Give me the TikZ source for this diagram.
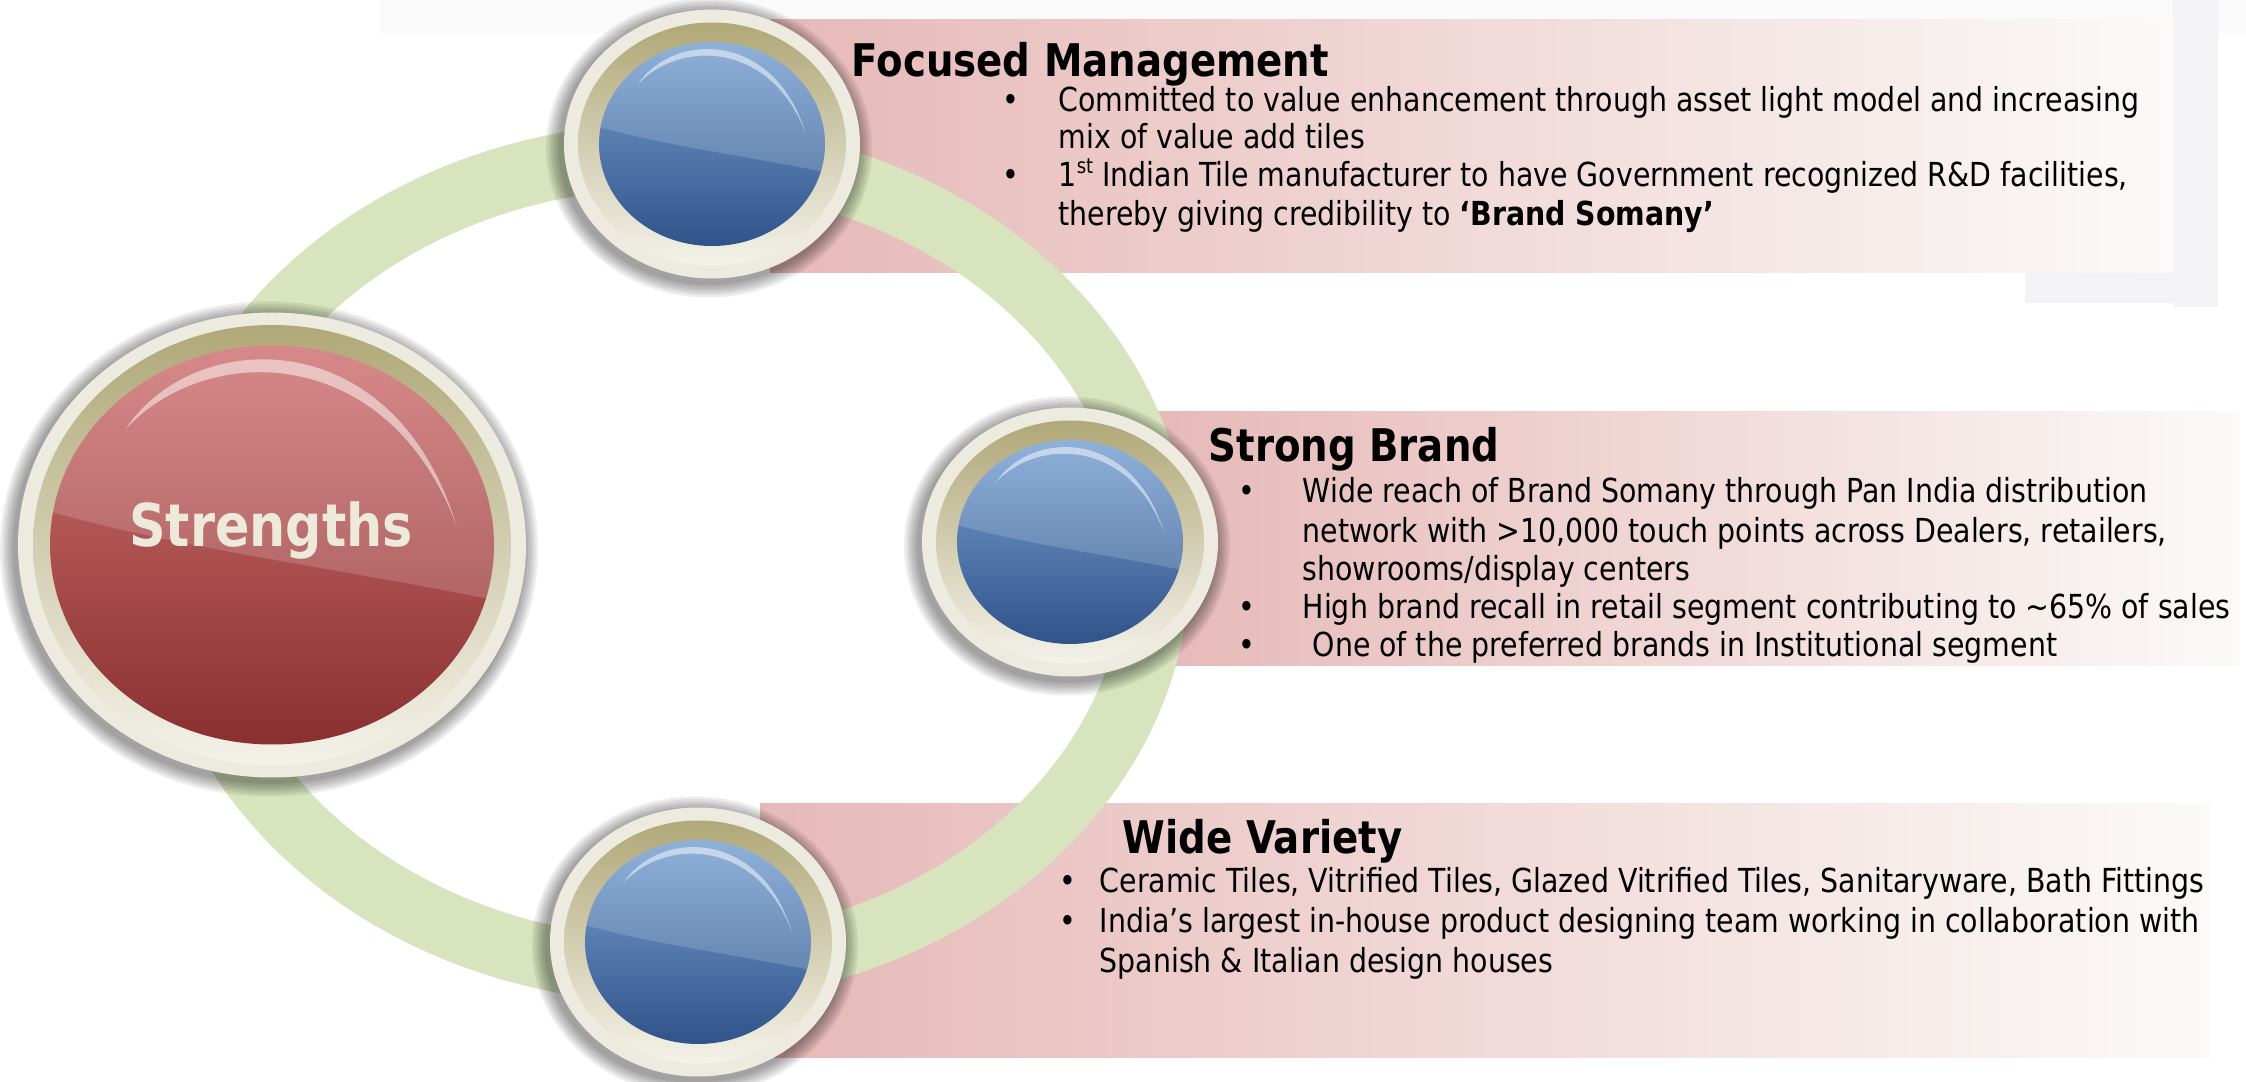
\documentclass[tikz,border=0pt]{standalone}
\usepackage{fontspec}
\usepackage{tikz}
\usetikzlibrary{calc}

\newfontfamily\slidefont[FakeStretch=0.86]{DejaVu Sans}

\definecolor{ringgreen}{HTML}{D7E4BD}
\definecolor{bandpink}{HTML}{E6B9B8}
\definecolor{bandmid}{HTML}{EFE2DE}
\definecolor{bandend}{HTML}{FBFAF8}
\definecolor{rimcream}{HTML}{EDEBE0}
\definecolor{olivetop}{HTML}{B0A878}
\definecolor{olivebot}{HTML}{F4F2EA}
\definecolor{bluetop}{HTML}{79A2D3}
\definecolor{bluemid}{HTML}{4F7FBC}
\definecolor{bluebot}{HTML}{30538A}
\definecolor{redtop}{HTML}{D07373}
\definecolor{redmid}{HTML}{C45957}
\definecolor{redbot}{HTML}{8A3030}
\definecolor{labelcream}{HTML}{EEEADB}
\definecolor{slidegrey}{HTML}{F3F3F5}

\tikzset{
  band/.style={left color=bandpink, middle color=bandmid, right color=bandend},
  txt/.style={anchor=base west, inner sep=0pt, font=\slidefont\fontsize{9.4}{11}\selectfont},
  bulletmark/.style={anchor=base, inner sep=0pt, font=\slidefont\fontsize{9.4}{11}\selectfont},
  heading/.style={anchor=base west, inner sep=0pt, font=\slidefont\bfseries\fontsize{12.8}{15}\selectfont},
}

% glossy button: centre, outer radii, rim radii, face radii, colour prefix
\newcommand\drawgem[8]{%
  \begin{scope}[shift={(#1)}]
    \foreach \k in {1,...,6}
      {\fill[black,opacity=.07] (-3,-4) ellipse [x radius=#2+2.5*\k, y radius=#3+2.5*\k];}
    \fill[rimcream] (0,0) ellipse [x radius=#2, y radius=#3];
    \shade[top color=olivetop, bottom color=olivebot] (0,0) ellipse [x radius=#4, y radius=#5];
    \shade[top color=#8top, middle color=#8mid, bottom color=#8bot] (0,0) ellipse [x radius=#6, y radius=#7];
    \begin{scope}
      \clip (0,0) ellipse [x radius=#6, y radius=#7];
      \fill[white,opacity=.16] ({-1.1*#6},{.2*#7}) .. controls ({-.45*#6},{-.02*#7}) and ({.35*#6},{-.12*#7}) .. ({1.1*#6},{-.3*#7})
        -- ({1.1*#6},{1.1*#7}) -- ({-1.1*#6},{1.1*#7}) -- cycle;
    \end{scope}
    % thin reflection along the top
    \fill[white,opacity=.5] ({-.66*#6},{.58*#7}) .. controls ({-.35*#6},{1.1*#7}) and ({.55*#6},{1.12*#7}) .. ({.83*#6},{.1*#7})
      .. controls ({.52*#6},{1.02*#7}) and ({-.3*#6},{1.02*#7}) .. ({-.66*#6},{.58*#7});
  \end{scope}}

\begin{document}
\begin{tikzpicture}[x=0.1mm,y=0.1mm]
\useasboundingbox (0,0) rectangle (2246,1081);
\fill[white] (0,0) rectangle (2246,1081);

% faint slide furniture, top right
\fill[slidegrey!45] (380,1048) rectangle (2246,1081);
\fill[slidegrey] (2173,774) rectangle (2218,1081);
\fill[slidegrey] (2025,778) rectangle (2218,823);

% bands behind the three headings
\shade[band] (770,808) rectangle (2173,1061);
\shade[band] (1153,415) rectangle (2240,669);
\shade[band] (760,24) rectangle (2210,277);

% cycle ring
\coordinate (hub) at (670,518);
\draw[ringgreen, line width=6.5mm] (hub) ellipse [x radius=487.5, y radius=407.5];

% buttons
\coordinate (st) at (272,536);
\coordinate (fm) at (712,937);
\coordinate (sb) at (1070,539);
\coordinate (wv) at (698,139);
\drawgem{st}{254}{232.5}{239}{220}{222}{199.5}{red}
\foreach \b in {fm,sb,wv}
  {\drawgem{\b}{148}{134.5}{134}{121.5}{113}{102}{blue}}

\node[anchor=base, inner sep=0pt, text=labelcream, font=\slidefont\bfseries\fontsize{16.8}{20}\selectfont] (stlabel) at (271,534) {Strengths};

% Focused Management
\node[heading] (fmhead) at (851,1004) {Focused Management};
\node[bulletmark] (fmb1) at (1011,969) {•};
\node[bulletmark] (fmb2) at (1011,894) {•};
\node[txt] (fm1) at (1058,969) {Committed to value enhancement through asset light model and increasing};
\node[txt] (fm2) at (1058,932) {mix of value add tiles};
\node[txt] (fm3) at (1058,894) {1\raisebox{.75ex}{\fontsize{6}{6}\selectfont st} Indian Tile manufacturer to have Government recognized R\&D facilities,};
\node[txt] (fm4) at (1058,855) {thereby giving credibility to \textbf{‘Brand Somany’}};

% Strong Brand
\node[heading] (sbhead) at (1208,619) {Strong Brand};
\node[bulletmark] (sbb1) at (1247,578) {•};
\node[bulletmark] (sbb2) at (1247,462) {•};
\node[bulletmark] (sbb3) at (1247,424) {•};
\node[txt] (sb1) at (1302,578) {Wide reach of Brand Somany through Pan India distribution};
\node[txt] (sb2) at (1302,538) {network with >10,000 touch points across Dealers, retailers,};
\node[txt] (sb3) at (1302,500) {showrooms/display centers};
\node[txt] (sb4) at (1302,462) {High brand recall in retail segment contributing to \textasciitilde65\% of sales};
\node[txt] (sb5) at (1312,424) {One of the preferred brands in Institutional segment};

% Wide Variety
\node[heading] (wvhead) at (1122,228) {Wide Variety};
\node[bulletmark] (wvb1) at (1068,188) {•};
\node[bulletmark] (wvb2) at (1068,149) {•};
\node[txt] (wv1) at (1099,188) {Ceramic Tiles, Vitrified Tiles, Glazed Vitrified Tiles, Sanitaryware, Bath Fittings};
\node[txt] (wv2) at (1099,149) {India’s largest in-house product designing team working in collaboration with};
\node[txt] (wv3) at (1099,109) {Spanish \& Italian design houses};
\end{tikzpicture}
\end{document}
